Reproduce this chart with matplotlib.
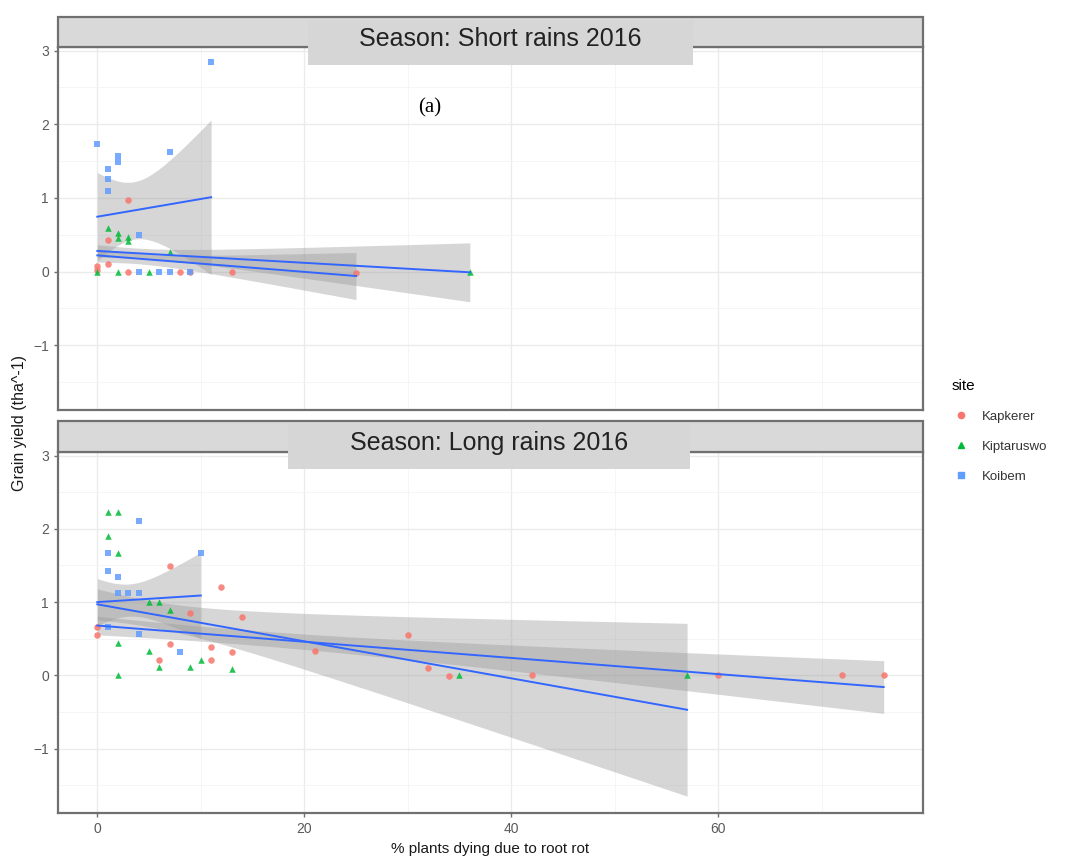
import numpy as np
import matplotlib
matplotlib.use("Agg")
import matplotlib.pyplot as plt
from matplotlib.patches import Rectangle
from matplotlib.lines import Line2D

plt.rcParams['font.family'] = ['Liberation Sans', 'DejaVu Sans']

# ---------------- data ----------------
sites = ["Kapkerer", "Kiptaruswo", "Koibem"]
site_colors = ["#F8766D", "#00BA38", "#619CFF"]
site_markers = ["o", "^", "s"]
seasons = ["Season: Short rains 2016", "Season: Long rains 2016"]

# Short rains 2016
sr_kap_x = [0, 0, 1, 3, 3, 8, 9, 13, 1, 25]
sr_kap_y = [0.08, 0.02, 0.43, 0.97, 0.0, 0.0, 0.0, -0.01, 0.10, -0.02]
sr_kip_x = [0, 2, 5, 1, 2, 2, 3, 3, 7, 36]
sr_kip_y = [0.0, 0.0, 0.0, 0.59, 0.52, 0.45, 0.47, 0.41, 0.27, 0.0]
sr_koi_x = [11, 0, 2, 2, 1, 1, 1, 7, 4, 4, 6, 7, 9]
sr_koi_y = [2.84, 1.73, 1.57, 1.49, 1.39, 1.26, 1.09, 1.63, 0.50, 0.0, 0.0, 0.0, 0.0]

# Long rains 2016
lr_kap_x = [0, 0, 7, 12, 14, 7, 11, 13, 6, 11, 9, 30, 21, 32, 34, 42, 60, 72, 76]
lr_kap_y = [0.66, 0.55, 1.49, 1.21, 0.79, 0.43, 0.39, 0.32, 0.21, 0.21, 0.85,
            0.55, 0.33, 0.10, -0.01, 0.01, 0.0, 0.0, 0.0]
lr_kip_x = [1, 2, 1, 2, 5, 6, 7, 2, 5, 10, 6, 9, 13, 2, 35, 57]
lr_kip_y = [2.23, 2.23, 1.90, 1.67, 1.0, 1.0, 0.89, 0.44, 0.33, 0.21, 0.11, 0.11,
            0.08, 0.0, 0.0, 0.0]
lr_koi_x = [4, 1, 10, 1, 2, 2, 3, 4, 8, 4, 1]
lr_koi_y = [2.11, 1.67, 1.67, 1.42, 1.34, 1.12, 1.12, 1.12, 0.32, 0.57, 0.66]

points = [
    [(sr_kap_x, sr_kap_y), (sr_kip_x, sr_kip_y), (sr_koi_x, sr_koi_y)],
    [(lr_kap_x, lr_kap_y), (lr_kip_x, lr_kip_y), (lr_koi_x, lr_koi_y)],
]

# linear smooths: xmin, xmax, fit at xmin, fit at xmax, xbar, min half-width, half-width at xmax
sr_smooth = [
    (0, 25, 0.22, -0.06, 4.0, 0.07, 0.32),
    (0, 36, 0.28, -0.01, 4.0, 0.07, 0.40),
    (0, 11, 0.745, 1.01, 3.5, 0.39, 1.05),
]
lr_smooth = [
    (0, 76, 0.68, -0.16, 14.0, 0.10, 0.36),
    (0, 57, 0.97, -0.47, 5.0, 0.18, 1.18),
    (0, 10, 1.00, 1.09, 3.0, 0.22, 0.59),
]
smooths = [sr_smooth, lr_smooth]

x_ticks = [0, 20, 40, 60]
y_ticks = [-1, 0, 1, 2, 3]

# ---------------- figure ----------------
W, H = 1065, 863
fig = plt.figure(figsize=(W / 100, H / 100), dpi=100)

def fx(px):
    return px / W

def fy(py):
    return 1 - py / H

left_px, right_px = 58, 923
panels = [(47, 410), (452, 813)]
strips = [(17, 47), (421, 452)]
boxes = [((308, 20), (693, 65)), ((288, 424), (690, 469))]

for i in range(2):
    top, bot = panels[i]
    ax = fig.add_axes([fx(left_px), fy(bot), fx(right_px - left_px), (bot - top) / H])
    ax.set_xlim(-3.8, 79.8)
    ax.set_ylim(-1.88, 3.05)
    ax.set_xticks(x_ticks)
    ax.set_xticks([10, 30, 50, 70], minor=True)
    ax.set_yticks(y_ticks)
    ax.set_yticks([-1.5, -0.5, 0.5, 1.5, 2.5], minor=True)
    ax.grid(True, which='major', color='#EBEBEB', linewidth=1.0, zorder=0)
    ax.grid(True, which='minor', color='#F4F4F4', linewidth=0.6, zorder=0)
    ax.set_axisbelow(True)
    for s in ax.spines.values():
        s.set_color('#707070')
        s.set_linewidth(1.6)
    ax.tick_params(which='major', length=3, width=1, color='#707070',
                   labelcolor='#5A5A5A', labelsize=10)
    ax.tick_params(which='minor', length=0)
    if i == 0:
        ax.tick_params(axis='x', labelbottom=False, length=0)

    # smooths
    for k, (x0, x1, f0, f1, xb, h0, h1) in enumerate(smooths[i]):
        xs = np.linspace(x0, x1, 80)
        fit = f0 + (f1 - f0) * (xs - x0) / (x1 - x0)
        b = (h1 ** 2 - h0 ** 2) / (x1 - xb) ** 2
        hw = np.sqrt(h0 ** 2 + b * (xs - xb) ** 2)
        ax.fill_between(xs, fit - hw, fit + hw, color='#999999', alpha=0.4,
                        linewidth=0, zorder=2)
    for k, (x0, x1, f0, f1, xb, h0, h1) in enumerate(smooths[i]):
        ax.plot([x0, x1], [f0, f1], color='#3366FF', linewidth=1.4, zorder=4)

    # points
    for k in range(3):
        xs, ys = points[i][k]
        ax.scatter(xs, ys, s=22, marker=site_markers[k], color=site_colors[k],
                   alpha=0.85, linewidths=0, zorder=3)

    # strip
    st, sb = strips[i]
    fig.patches.append(Rectangle((fx(left_px), fy(sb)), fx(right_px - left_px), (sb - st) / H,
                                 transform=fig.transFigure, facecolor='#D9D9D9',
                                 edgecolor='#707070', linewidth=1.6, zorder=1))
    # overlay title box
    (bx0, by0), (bx1, by1) = boxes[i]
    fig.patches.append(Rectangle((fx(bx0), fy(by1)), fx(bx1 - bx0), (by1 - by0) / H,
                                 transform=fig.transFigure, facecolor='#D6D6D6',
                                 edgecolor='none', zorder=5))
    fig.text(fx((bx0 + bx1) / 2), fy((by0 + by1) / 2 - 4), seasons[i], ha='center', va='center',
             fontsize=18, color='#222222', zorder=6)
    if i == 1:
        ax.set_xlabel('% plants dying due to root rot', fontsize=11, color='#1A1A1A', labelpad=4)

fig.text(fx(430), fy(108), '(a)', family='Liberation Serif', fontsize=15,
         ha='center', va='center', color='black')
fig.text(fx(20), fy(423), 'Grain yield (tha^-1)', rotation=90, ha='center', va='center',
         fontsize=11.5, color='#1A1A1A')

handles = [Line2D([], [], linestyle='none', marker=site_markers[k], color=site_colors[k],
                  markersize=4.5) for k in range(3)]
leg = fig.legend(handles, sites, title='site', loc='center left',
                 bbox_to_anchor=(fx(940), fy(431)), frameon=False, fontsize=9.5,
                 title_fontsize=11, labelspacing=1.35, handletextpad=0.9,
                 handlelength=1.4)
leg._legend_box.align = 'left'
for t in leg.get_texts():
    t.set_color('#333333')

fig.savefig('out.png', dpi=100)
